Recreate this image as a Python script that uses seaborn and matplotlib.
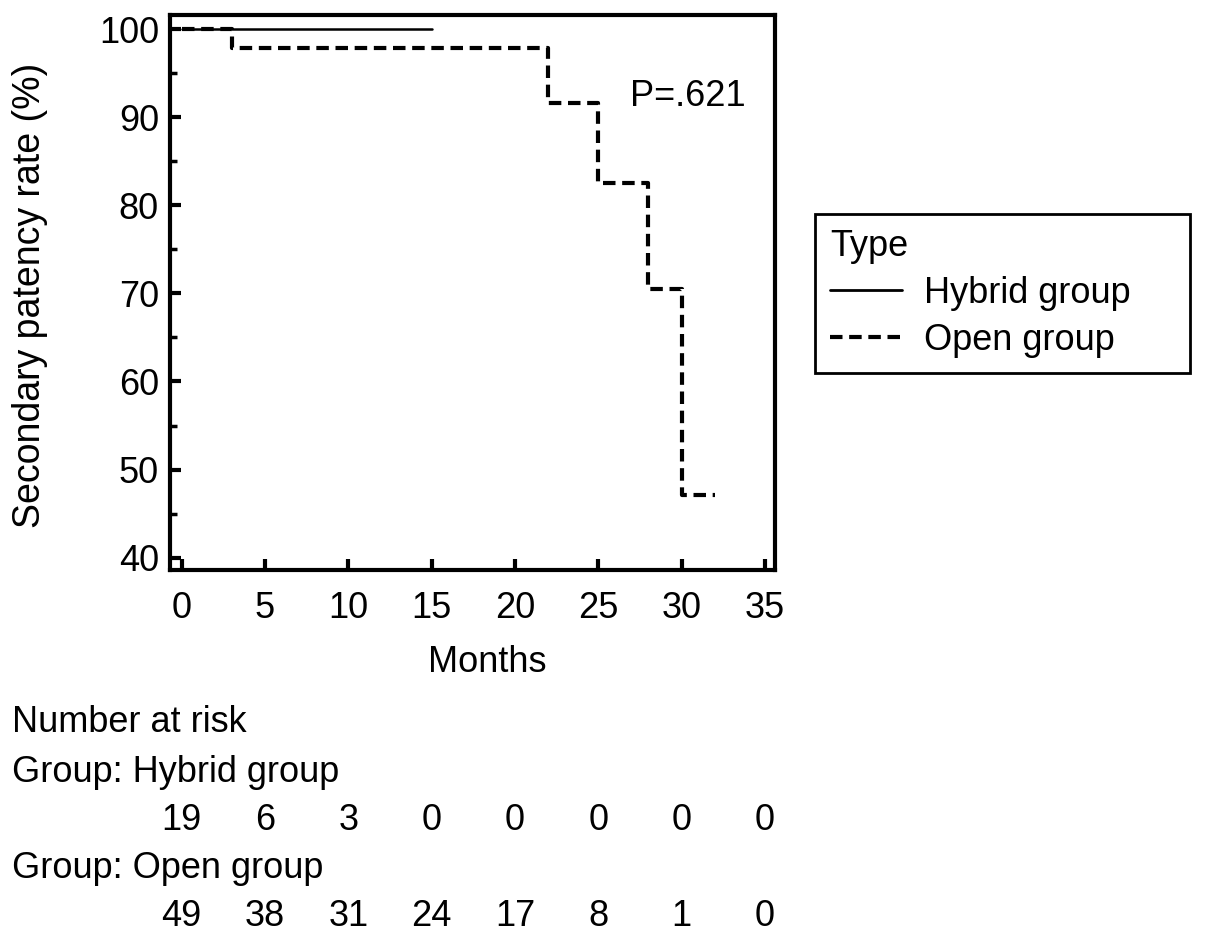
import pandas as pd
import matplotlib.pyplot as plt
import matplotlib.transforms as mtransforms
from matplotlib.lines import Line2D
import seaborn as sns

# Kaplan-Meier step values
hybrid_months = [0, 15]
hybrid_rate = [100, 100]
open_months = [0, 3, 22, 25, 28, 30, 32]
open_rate = [100, 97.9, 91.6, 82.5, 70.5, 47.1, 47.1]

risk_months = [0, 5, 10, 15, 20, 25, 30, 35]
risk_hybrid = [19, 6, 3, 0, 0, 0, 0, 0]
risk_open = [49, 38, 31, 24, 17, 8, 1, 0]

df = pd.concat([
    pd.DataFrame({'Months': hybrid_months, 'Rate': hybrid_rate, 'Type': 'Hybrid group'}),
    pd.DataFrame({'Months': open_months, 'Rate': open_rate, 'Type': 'Open group'}),
])

sns.set_theme(style='white')
plt.rcParams['font.family'] = ['Liberation Sans', 'DejaVu Sans']
plt.rcParams.update({'text.color': 'black', 'axes.labelcolor': 'black',
                     'xtick.color': 'black', 'ytick.color': 'black'})
fs = 26

fig = plt.figure(figsize=(12.05, 9.41), dpi=100)
ax = fig.add_axes([170 / 1205, 1 - 570 / 941, 605 / 1205, 555 / 941])

sns.lineplot(data=df[df['Type'] == 'Hybrid group'], x='Months', y='Rate',
             color='black', linewidth=1.8, drawstyle='steps-post',
             estimator=None, ax=ax, legend=False)
sns.lineplot(data=df[df['Type'] == 'Open group'], x='Months', y='Rate',
             color='black', linewidth=3, linestyle=(0, (3, 1.6)),
             drawstyle='steps-post', estimator=None, ax=ax, legend=False)

ax.set_xlim(-0.7, 35.6)
ax.set_ylim(38.6, 101.6)
ax.set_xticks(risk_months)
ax.set_yticks([40, 50, 60, 70, 80, 90, 100])
ax.set_yticks([45, 55, 65, 75, 85, 95], minor=True)
ax.tick_params(axis='both', which='major', direction='in', length=8, width=3,
               labelsize=fs, pad=8, left=True, bottom=True)
ax.tick_params(axis='x', which='major', pad=15)
ax.tick_params(axis='y', which='minor', direction='in', length=5, width=2.5, left=True)
for s in ax.spines.values():
    s.set_linewidth(3)
    s.set_color('black')
ax.set_xlabel('Months', fontsize=fs)
ax.set_ylabel('Secondary patency rate (%)', fontsize=27)
ax.xaxis.set_label_coords(0.524, -0.136)
ax.yaxis.set_label_coords(-0.202, 0.495)

ax.text(26.9, 92.4, 'P=.621', fontsize=fs, ha='left', va='center')

handles = [Line2D([], [], color='black', linewidth=2),
           Line2D([], [], color='black', linewidth=3, linestyle=(0, (3, 1.6)))]
leg = fig.legend(handles, ['Hybrid group', 'Open group'], title='Type',
                 loc='upper left',
                 bbox_to_anchor=(815 / 1205, 1 - 370 / 941, 375 / 1205, 156 / 941),
                 mode='expand', fontsize=fs, title_fontsize=fs, frameon=True,
                 fancybox=False, framealpha=1, handlelength=2.0,
                 handletextpad=0.6, borderpad=0.42, labelspacing=0.33,
                 borderaxespad=0)
leg._legend_box.align = 'left'
leg.get_frame().set_edgecolor('black')
leg.get_frame().set_linewidth(2)

# Number at risk table
trans = mtransforms.blended_transform_factory(ax.transData, fig.transFigure)
fig.text(12 / 1205, 1 - 723 / 941, 'Number at risk', fontsize=fs, va='center')
fig.text(12 / 1205, 1 - 772 / 941, 'Group: Hybrid group', fontsize=fs, va='center')
fig.text(12 / 1205, 1 - 868 / 941, 'Group: Open group', fontsize=fs, va='center')
for m, h, o in zip(risk_months, risk_hybrid, risk_open):
    ax.text(m, 1 - 820 / 941, str(h), transform=trans, fontsize=fs, ha='center', va='center')
    ax.text(m, 1 - 916 / 941, str(o), transform=trans, fontsize=fs, ha='center', va='center')

fig.savefig('out.png', dpi=100)
